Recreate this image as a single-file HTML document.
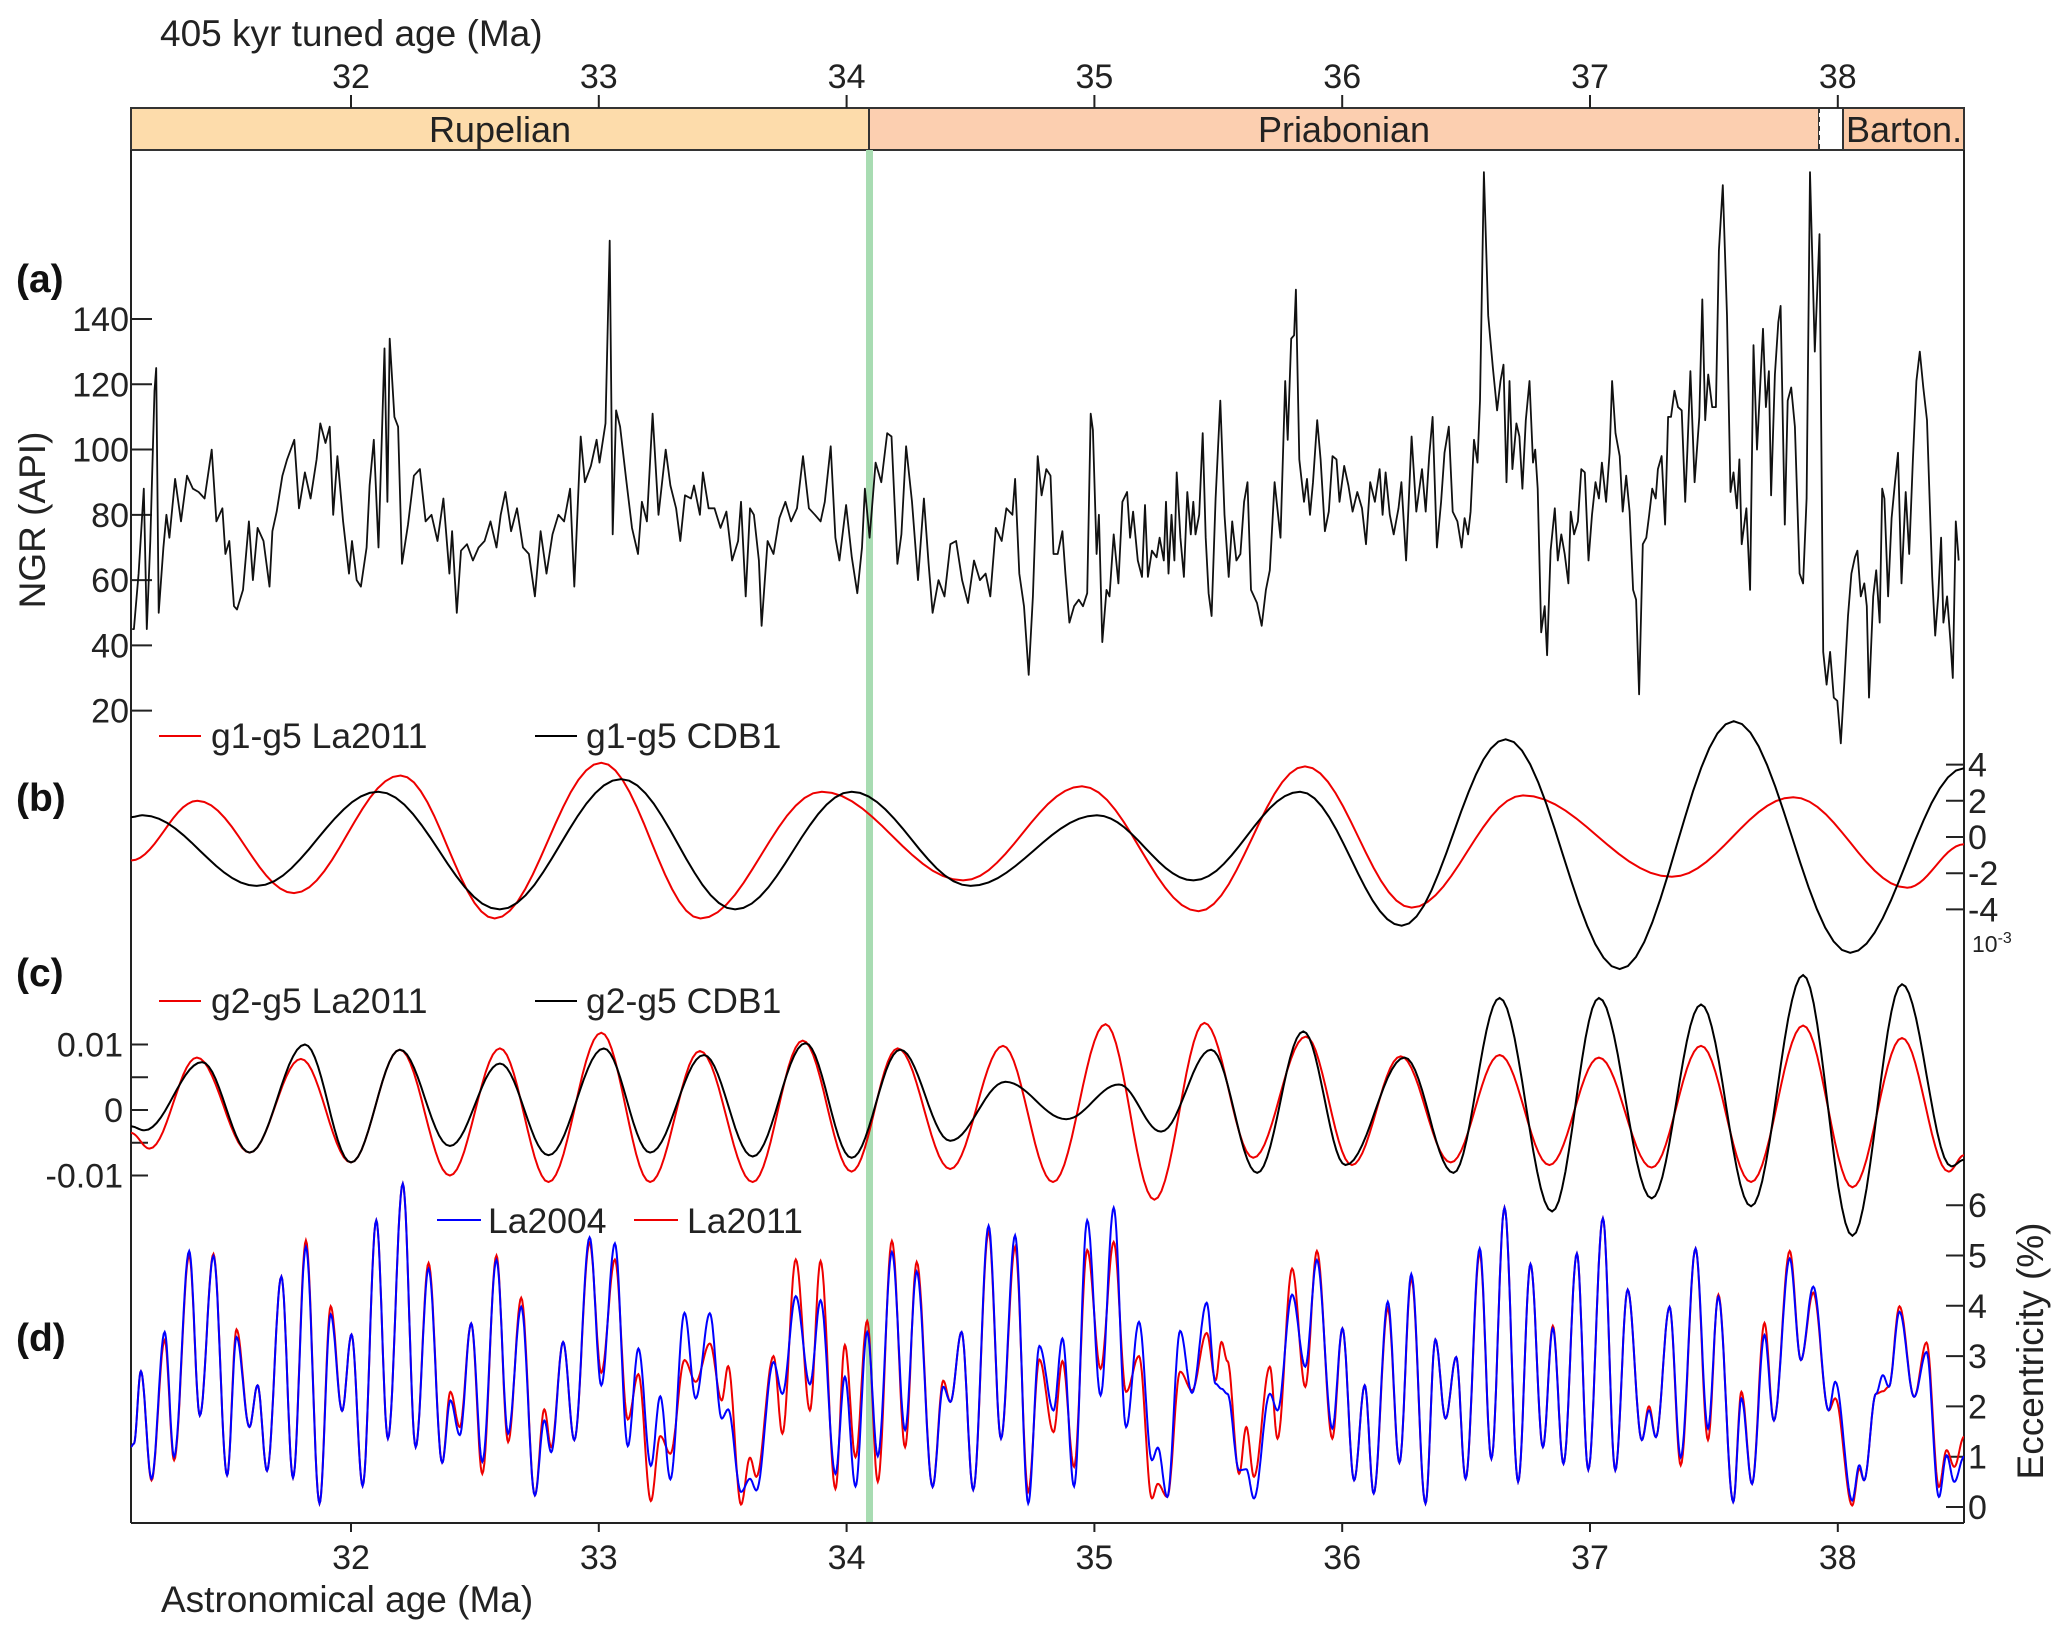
<!DOCTYPE html>
<html><head><meta charset="utf-8"><style>
html,body{margin:0;padding:0;background:#fff;}
svg{display:block;font-family:"Liberation Sans",Arial,sans-serif;}
</style></head><body>
<svg id="chart" width="2067" height="1635" viewBox="0 0 2067 1635" xmlns="http://www.w3.org/2000/svg">
<defs><clipPath id="plotclip"><rect x="131" y="150" width="1833" height="1373"/></clipPath></defs>
<rect x="0" y="0" width="2067" height="1635" fill="#fff"/>
<text x="160" y="46" font-size="37" fill="#222">405 kyr tuned age (Ma)</text>
<g>
<rect x="131" y="108" width="738" height="42" fill="#fddcab" stroke="#333" stroke-width="2"/>
<rect x="869" y="108" width="950" height="42" fill="#fccfb0" stroke="#333" stroke-width="2"/>
<rect x="1819" y="108" width="24" height="42" fill="#fff" stroke="none"/>
<line x1="1819" y1="108" x2="1843" y2="108" stroke="#333" stroke-width="2"/>
<line x1="1819" y1="150" x2="1843" y2="150" stroke="#333" stroke-width="2"/>
<line x1="1819" y1="108" x2="1819" y2="150" stroke="#333" stroke-width="2" stroke-dasharray="5,4"/>
<line x1="1843" y1="108" x2="1843" y2="150" stroke="#333" stroke-width="2" stroke-dasharray="5,4"/>
<rect x="1843" y="108" width="121" height="42" fill="#fccaa6" stroke="#333" stroke-width="2"/>
<text x="500" y="142" font-size="36" text-anchor="middle" fill="#222">Rupelian</text>
<text x="1344" y="142" font-size="36" text-anchor="middle" fill="#222">Priabonian</text>
<text x="1846" y="142" font-size="36" fill="#222">Barton.</text>
</g>
<rect x="866" y="150" width="7" height="1373" fill="#a8dcb2"/>
<line x1="131" y1="150" x2="131" y2="1523" stroke="#222" stroke-width="2"/>
<line x1="1964" y1="150" x2="1964" y2="1523" stroke="#222" stroke-width="2"/>
<line x1="131" y1="1523" x2="1964" y2="1523" stroke="#222" stroke-width="2"/>
<text x="161" y="1612" font-size="37" fill="#222">Astronomical age (Ma)</text>
<text transform="translate(45,520) rotate(-90)" font-size="37" text-anchor="middle" fill="#222">NGR (API)</text>
<text transform="translate(2043,1351) rotate(-90)" font-size="37" text-anchor="middle" fill="#222">Eccentricity (%)</text>
<text x="16" y="292" font-size="39" font-weight="bold" fill="#111">(a)</text>
<text x="16" y="811" font-size="39" font-weight="bold" fill="#111">(b)</text>
<text x="16" y="986" font-size="39" font-weight="bold" fill="#111">(c)</text>
<text x="16" y="1351" font-size="39" font-weight="bold" fill="#111">(d)</text>
<text x="1972" y="952" font-size="23" fill="#222">10<tspan font-size="16" dy="-9">-3</tspan></text>
<g>
<line x1="159" y1="736" x2="201" y2="736" stroke="#e00" stroke-width="2"/>
<text x="211" y="748" font-size="35.5" fill="#222">g1-g5 La2011</text>
<line x1="535" y1="736" x2="577" y2="736" stroke="#000" stroke-width="2"/>
<text x="586" y="748" font-size="35.5" fill="#222">g1-g5 CDB1</text>
</g>
<g>
<line x1="159" y1="1001" x2="201" y2="1001" stroke="#e00" stroke-width="2"/>
<text x="211" y="1013" font-size="35.5" fill="#222">g2-g5 La2011</text>
<line x1="535" y1="1001" x2="577" y2="1001" stroke="#000" stroke-width="2"/>
<text x="586" y="1013" font-size="35.5" fill="#222">g2-g5 CDB1</text>
</g>
<g>
<line x1="437" y1="1220" x2="481" y2="1220" stroke="#00f" stroke-width="2"/>
<text x="488" y="1233" font-size="35.5" fill="#222">La2004</text>
<line x1="634" y1="1220" x2="678" y2="1220" stroke="#e00" stroke-width="2"/>
<text x="687" y="1233" font-size="35.5" fill="#222">La2011</text>
</g>
<g id="axes"></g>
<g id="series" clip-path="url(#plotclip)"></g>
</svg>
<script>
const ageTicks = [32, 33, 34, 35, 36, 37, 38];
const ngrTicks = [20, 40, 60, 80, 100, 120, 140];
const bTicks = [-4, -2, 0, 2, 4];
const cTicks = [0.01, 0, -0.01];
const cMinorTicks = [0.005, -0.005];
const dTicks = [0, 1, 2, 3, 4, 5, 6];

const ngrAge = [31.117,31.124,31.143,31.164,31.176,31.190,31.207,31.214,31.224,31.243,31.255,31.267,31.290,31.314,31.326,31.338,31.362,31.385,31.409,31.438,31.457,31.481,31.493,31.509,31.528,31.540,31.564,31.588,31.604,31.623,31.647,31.671,31.683,31.700,31.723,31.742,31.771,31.790,31.814,31.837,31.861,31.876,31.897,31.914,31.928,31.945,31.968,31.992,32.004,32.023,32.040,32.063,32.075,32.092,32.111,32.135,32.147,32.156,32.175,32.190,32.206,32.230,32.254,32.278,32.301,32.325,32.349,32.373,32.397,32.408,32.427,32.444,32.468,32.492,32.515,32.539,32.563,32.587,32.604,32.623,32.646,32.670,32.694,32.718,32.742,32.765,32.789,32.813,32.837,32.860,32.884,32.901,32.927,32.944,32.968,32.991,33.003,33.027,33.044,33.056,33.070,33.086,33.110,33.134,33.158,33.174,33.194,33.217,33.241,33.270,33.289,33.312,33.329,33.348,33.372,33.384,33.408,33.420,33.443,33.467,33.491,33.515,33.538,33.562,33.574,33.593,33.610,33.626,33.646,33.657,33.681,33.705,33.729,33.753,33.776,33.800,33.824,33.848,33.872,33.895,33.912,33.936,33.955,33.971,33.998,34.021,34.043,34.062,34.074,34.093,34.117,34.140,34.164,34.181,34.205,34.221,34.240,34.264,34.288,34.312,34.331,34.347,34.371,34.395,34.419,34.442,34.466,34.490,34.514,34.538,34.561,34.580,34.602,34.626,34.645,34.669,34.680,34.697,34.716,34.735,34.752,34.771,34.787,34.806,
34.823,34.835,34.852,34.871,34.883,34.899,34.918,34.937,34.954,34.971,34.985,34.994,35.009,35.018,35.032,35.049,35.061,35.078,35.097,35.113,35.132,35.144,35.156,35.175,35.192,35.204,35.216,35.232,35.251,35.263,35.280,35.289,35.299,35.311,35.323,35.332,35.347,35.361,35.375,35.389,35.399,35.408,35.423,35.437,35.449,35.461,35.473,35.489,35.508,35.525,35.542,35.556,35.573,35.589,35.604,35.618,35.632,35.656,35.675,35.692,35.708,35.727,35.751,35.770,35.780,35.794,35.806,35.813,35.827,35.846,35.858,35.870,35.882,35.899,35.913,35.930,35.946,35.961,35.977,35.989,36.008,36.025,36.042,36.061,36.080,36.096,36.113,36.132,36.151,36.163,36.175,36.192,36.208,36.227,36.239,36.258,36.280,36.299,36.322,36.337,36.351,36.365,36.382,36.399,36.413,36.430,36.446,36.465,36.482,36.494,36.508,36.518,36.532,36.546,36.556,36.572,36.589,36.608,36.625,36.639,36.651,36.663,36.675,36.687,36.703,36.715,36.727,36.741,36.756,36.770,36.779,36.789,36.803,36.817,36.827,36.841,36.858,36.870,36.884,36.898,36.913,36.922,36.936,36.951,36.965,36.979,36.994,37.008,37.022,37.036,37.048,37.065,37.079,37.089,37.103,37.120,37.132,37.146,37.160,37.174,37.186,37.198,37.213,37.227,37.239,37.251,37.265,37.274,37.289,37.303,37.315,37.327,37.341,37.355,37.370,37.384,37.393,37.405,37.422,37.441,37.453,37.465,37.477,37.493,37.508,37.520,37.536,37.553,37.567,37.579,37.593,37.603,37.612,37.631,37.646,37.660,37.674,37.698,37.710,37.722,37.731,37.746,37.760,37.769,37.786,37.798,37.812,37.827,37.846,37.860,37.874,37.888,37.907,37.926,37.941,37.955,37.969,37.984,37.998,38.012,38.026,38.041,38.055,38.069,38.079,38.093,38.107,38.117,38.126,38.143,38.155,38.169,38.179,38.188,38.203,38.217,38.231,38.243,38.257,38.274,38.288,38.303,38.317,38.331,38.345,38.360,38.381,38.393,38.405,38.417,38.426,38.441,38.455,38.464,38.476,38.488];
const ngrVal = [45,45,62,88,45,72,118,125,50,70,80,73,91,78,85,92,88,87,85,100,78,82,68,72,52,51,57,78,60,76,72,58,75,81,92,97,103,82,93,85,97,108,102,107,80,98,78,62,72,60,58,70,89,103,70,131,84,134,110,107,65,77,92,94,78,80,72,85,62,75,50,69,71,66,70,72,78,70,80,87,75,82,70,68,55,75,62,74,80,78,88,58,104,90,95,103,96,108,164,74,112,107,91,76,68,84,78,111,80,100,89,82,72,86,85,89,80,93,82,82,76,81,66,72,84,55,82,80,66,46,72,68,79,84,78,82,98,82,80,78,84,101,73,66,83,67,56,70,88,73,96,90,105,104,65,74,101,84,60,85,65,50,60,55,71,72,60,53,66,60,62,55,76,72,82,80,91,62,52,31,55,98,86,94,
92,68,68,75,62,47,52,54,52,56,111,106,68,80,41,57,55,74,59,84,87,73,81,66,61,83,61,69,67,73,66,84,62,80,66,93,73,61,87,74,84,74,80,105,73,56,49,85,115,80,61,78,66,68,84,90,57,53,46,57,63,90,73,121,103,134,135,149,97,84,91,80,90,109,97,75,81,98,97,84,95,89,81,87,82,71,90,84,94,80,93,80,74,82,90,66,104,81,94,81,98,110,70,84,99,107,81,78,70,79,74,81,103,96,115,185,141,125,112,121,126,90,121,94,108,104,88,109,121,96,100,88,44,52,37,69,82,66,74,68,59,81,74,78,94,93,66,80,90,85,96,84,99,121,105,98,81,92,81,57,54,25,71,73,80,88,85,94,98,77,110,110,118,113,112,84,100,124,90,110,146,109,123,113,113,161,181,141,87,93,82,97,71,82,57,132,100,137,113,124,86,123,139,144,77,115,119,107,62,59,85,185,130,166,38,28,38,24,23,10,28,49,62,67,69,55,59,52,24,55,63,47,88,85,55,79,90,99,59,87,68,97,121,130,119,109,61,43,55,73,47,55,41,30,78,66];

const bRedAge = [31.112,31.38,31.77,32.20,32.58,33.01,33.41,33.90,34.47,34.95,35.42,35.85,36.28,36.73,37.33,37.82,38.28,38.51];
const bRedVal = [-1.3,2.0,-3.1,3.4,-4.5,4.1,-4.5,2.5,-2.4,2.8,-4.1,3.9,-3.9,2.3,-2.2,2.2,-2.8,-0.4];
const bBlackAge = [31.112,31.16,31.62,32.11,32.60,33.09,33.55,34.02,34.50,35.01,35.40,35.83,36.24,36.66,37.12,37.58,38.05,38.51];
const bBlackVal = [1.1,1.2,-2.7,2.5,-4.0,3.2,-4.0,2.5,-2.7,1.2,-2.4,2.5,-4.9,5.4,-7.3,6.4,-6.4,3.8];

const cRedAge = [31.112,31.187,31.378,31.591,31.798,32.000,32.197,32.399,32.601,32.797,33.010,33.207,33.408,33.621,33.823,34.020,34.206,34.418,34.631,34.833,35.045,35.242,35.444,35.641,35.853,36.039,36.236,36.438,36.635,36.836,37.036,37.249,37.448,37.650,37.860,38.059,38.259,38.447,38.51];
const cRedVal = [-0.0035,-0.0059,0.0080,-0.0065,0.0078,-0.0080,0.0092,-0.0100,0.0094,-0.0110,0.0118,-0.0110,0.0090,-0.0110,0.0106,-0.0094,0.0094,-0.0090,0.0098,-0.0110,0.0131,-0.0137,0.0133,-0.0073,0.0112,-0.0084,0.0082,-0.0080,0.0084,-0.0084,0.0080,-0.0088,0.0098,-0.0110,0.0129,-0.0118,0.0110,-0.0094,-0.0069];
const cBlackAge = [31.112,31.166,31.399,31.591,31.814,32.000,32.197,32.399,32.601,32.797,33.020,33.207,33.424,33.621,33.834,34.020,34.216,34.418,34.641,34.886,35.099,35.269,35.471,35.657,35.843,36.013,36.252,36.449,36.635,36.847,37.036,37.249,37.448,37.650,37.860,38.059,38.259,38.458,38.51];
const cBlackVal = [-0.0025,-0.0031,0.0073,-0.0065,0.0100,-0.0080,0.0092,-0.0055,0.0071,-0.0069,0.0094,-0.0065,0.0084,-0.0071,0.0102,-0.0073,0.0092,-0.0047,0.0043,-0.0014,0.0039,-0.0033,0.0092,-0.0096,0.0120,-0.0084,0.0080,-0.0096,0.0171,-0.0155,0.0171,-0.0135,0.0161,-0.0147,0.0206,-0.0192,0.0192,-0.0086,-0.0076];

const eccAge = [31.112,31.124,31.152,31.195,31.248,31.286,31.347,31.390,31.445,31.500,31.538,31.590,31.623,31.661,31.719,31.766,31.818,31.873,31.918,31.964,32.002,32.047,32.102,32.149,32.209,32.261,32.313,32.368,32.401,32.439,32.485,32.530,32.587,32.634,32.687,32.742,32.780,32.808,32.856,32.901,32.963,33.010,33.065,33.117,33.160,33.210,33.248,33.289,33.346,33.391,33.448,33.496,33.522,33.574,33.610,33.636,33.705,33.741,33.795,33.852,33.895,33.955,33.993,34.036,34.083,34.126,34.183,34.236,34.283,34.347,34.390,34.419,34.464,34.511,34.573,34.623,34.680,34.733,34.778,34.835,34.871,34.918,34.971,35.025,35.078,35.128,35.180,35.232,35.256,35.294,35.346,35.394,35.453,35.489,35.513,35.537,35.584,35.613,35.644,35.708,35.739,35.798,35.851,35.898,35.960,36.001,36.048,36.091,36.127,36.184,36.231,36.279,36.336,36.376,36.417,36.460,36.498,36.555,36.602,36.655,36.710,36.760,36.810,36.850,36.893,36.947,36.993,37.052,37.102,37.152,37.209,37.238,37.266,37.321,37.366,37.426,37.476,37.518,37.578,37.611,37.654,37.704,37.742,37.806,37.851,37.901,37.963,37.990,38.058,38.087,38.106,38.154,38.182,38.206,38.249,38.308,38.358,38.408,38.439,38.470,38.510];
const eccLa2004 = [1.2,1.26,2.70,0.56,3.48,1.00,5.09,1.82,4.99,0.63,3.38,1.59,2.42,0.72,4.58,0.58,5.17,0.07,3.83,1.91,3.43,0.42,5.70,1.36,6.43,1.19,4.74,0.88,2.12,1.43,3.65,0.90,4.91,1.46,3.98,0.23,1.72,1.09,3.28,1.33,5.36,2.42,5.24,1.21,3.15,0.82,2.20,0.55,3.86,2.16,3.85,1.76,1.94,0.30,0.56,0.33,2.88,2.25,4.19,2.44,4.11,0.66,2.59,0.41,3.48,1.01,5.07,1.53,4.68,0.40,2.39,2.09,3.48,0.34,5.59,1.36,5.40,0.07,3.20,1.92,3.35,0.41,5.70,2.22,5.95,1.59,3.68,0.93,1.18,0.20,3.50,2.27,4.06,2.45,2.35,2.25,0.73,0.75,0.17,2.25,1.92,4.22,2.79,4.91,1.56,3.55,0.53,2.42,0.27,4.08,0.88,4.63,0.07,3.33,1.76,2.98,0.56,5.14,0.96,5.95,0.50,4.83,1.19,3.55,0.86,5.04,0.74,5.74,0.73,4.32,1.33,1.92,1.39,3.98,0.99,5.14,1.56,4.18,0.10,2.16,0.46,3.42,1.72,4.94,2.92,4.38,1.92,2.49,0.13,0.83,0.53,2.25,2.62,2.39,3.88,2.19,3.08,0.20,1.03,0.50,1.00];
const eccLa2011 = [1.2,1.26,2.70,0.53,3.32,0.93,5.00,1.82,5.03,0.63,3.53,1.59,2.42,0.72,4.58,0.58,5.30,0.07,3.99,1.91,3.43,0.42,5.70,1.36,6.43,1.19,4.85,0.88,2.29,1.59,3.65,0.66,5.00,1.29,4.16,0.23,1.94,1.19,3.28,1.33,5.25,2.67,4.92,1.74,2.64,0.12,1.41,1.06,2.92,2.49,3.25,2.12,2.80,0.05,0.98,0.60,3.00,1.46,4.92,1.92,4.89,0.36,3.22,0.99,3.70,0.50,5.29,1.19,4.87,0.40,2.51,2.09,3.48,0.34,5.47,1.36,5.17,0.30,2.93,1.49,2.90,0.80,5.11,2.75,5.27,2.29,3.00,0.17,0.46,0.20,2.69,2.32,3.46,2.52,3.28,2.90,0.66,1.59,0.60,2.79,1.36,4.74,2.39,5.09,1.36,3.55,0.53,2.42,0.27,3.95,0.88,4.54,0.07,3.33,1.76,2.98,0.56,5.04,0.96,5.95,0.50,4.83,1.19,3.60,0.86,5.04,0.74,5.74,0.73,4.32,1.33,2.00,1.39,3.98,0.83,5.14,1.33,4.22,0.10,2.29,0.46,3.66,1.72,5.09,2.92,4.26,1.92,2.16,0.03,0.76,0.53,2.25,2.30,2.39,3.99,2.19,3.27,0.40,1.13,0.80,1.40];

const NS = 'http://www.w3.org/2000/svg';
function xAge(a){ return 351 + (a - 32) * 247.8; }
function yNgr(v){ return 319 + (140 - v) * 3.264; }
function yB(v){ return 837 - v * 18.1; }
function yC(v){ return 1110 - v * 6550; }
function yD(v){ return 1507 - v * 50.3; }
function mk(tag, attrs, parent){
  const e = document.createElementNS(NS, tag);
  for (const k in attrs) e.setAttribute(k, attrs[k]);
  parent.appendChild(e);
  return e;
}
const axes = document.getElementById('axes');
const series = document.getElementById('series');

ageTicks.forEach(a => {
  const x = xAge(a);
  const t1 = mk('line', {x1:x, y1:95, x2:x, y2:108, stroke:'#222', 'stroke-width':2}, axes);
  
  
  const l1 = mk('text', {x:x, y:88, 'font-size':34, 'text-anchor':'middle', fill:'#222'}, axes);
  l1.textContent = String(a);
  
  
  const t2 = mk('line', {x1:x, y1:1523, x2:x, y2:1532, stroke:'#222', 'stroke-width':2}, axes);
  
  
  const l2 = mk('text', {x:x, y:1569, 'font-size':34, 'text-anchor':'middle', fill:'#222'}, axes);
  l2.textContent = String(a);
  
  
});
ngrTicks.forEach(v => {
  const y = yNgr(v);
  const t = mk('line', {x1:131, y1:y, x2:152, y2:y, stroke:'#222', 'stroke-width':2}, axes);
  
  
  const l = mk('text', {x:129, y:y+12, 'font-size':34, 'text-anchor':'end', fill:'#222'}, axes);
  l.textContent = String(v);
  
  
});
bTicks.forEach(v => {
  const y = yB(v);
  const t = mk('line', {x1:1946, y1:y, x2:1964, y2:y, stroke:'#222', 'stroke-width':2}, axes);
  
  
  const l = mk('text', {x:1968, y:y+12, 'font-size':34, fill:'#222'}, axes);
  l.textContent = String(v);
  
  
});
cTicks.forEach(v => {
  const y = yC(v);
  const t = mk('line', {x1:131, y1:y, x2:148, y2:y, stroke:'#222', 'stroke-width':2}, axes);
  
  
  const l = mk('text', {x:123, y:y+12, 'font-size':34, 'text-anchor':'end', fill:'#222'}, axes);
  l.textContent = String(v);
  
  
});
cMinorTicks.forEach(v => {
  const y = yC(v);
  const t = mk('line', {x1:131, y1:y, x2:148, y2:y, stroke:'#222', 'stroke-width':2}, axes);
  
  
});
dTicks.forEach(v => {
  const y = yD(v);
  const t = mk('line', {x1:1946, y1:y, x2:1964, y2:y, stroke:'#222', 'stroke-width':2}, axes);
  
  
  const l = mk('text', {x:1968, y:y+12, 'font-size':34, fill:'#222'}, axes);
  l.textContent = String(v);
  
  
});

function linePath(ages, vals, yf){
  return ages.map((a, i) => (i ? 'L' : 'M') + xAge(a).toFixed(1) + ' ' + yf(vals[i]).toFixed(1)).join(' ');
}
function smoothPath(ages, vals, yf){
  let d = 'M' + xAge(ages[0]).toFixed(1) + ' ' + yf(vals[0]).toFixed(1);
  for (let i = 1; i < ages.length; i++) {
    const a0 = ages[i-1], a1 = ages[i], v0 = vals[i-1], v1 = vals[i];
    const n = 14;
    for (let k = 1; k <= n; k++) {
      const t = k / n;
      const e = (1 - Math.cos(Math.PI * t)) / 2;
      d += ' L' + xAge(a0 + (a1 - a0) * t).toFixed(1) + ' ' + yf(v0 + (v1 - v0) * e).toFixed(1);
    }
  }
  return d;
}
const pNgr = mk('path', {d: linePath(ngrAge, ngrVal, yNgr), fill:'none', stroke:'#111', 'stroke-width':1.8, 'stroke-linejoin':'round'}, series);


const pBR = mk('path', {d: smoothPath(bRedAge, bRedVal, yB), fill:'none', stroke:'#e00', 'stroke-width':2}, series);


const pBK = mk('path', {d: smoothPath(bBlackAge, bBlackVal, yB), fill:'none', stroke:'#000', 'stroke-width':2}, series);


const pCR = mk('path', {d: smoothPath(cRedAge, cRedVal, yC), fill:'none', stroke:'#e00', 'stroke-width':2}, series);


const pCK = mk('path', {d: smoothPath(cBlackAge, cBlackVal, yC), fill:'none', stroke:'#000', 'stroke-width':2}, series);


const pDR = mk('path', {d: smoothPath(eccAge, eccLa2011, yD), fill:'none', stroke:'#e00', 'stroke-width':2}, series);


const pDB = mk('path', {d: smoothPath(eccAge, eccLa2004, yD), fill:'none', stroke:'#00f', 'stroke-width':2}, series);


</script>
</body></html>
